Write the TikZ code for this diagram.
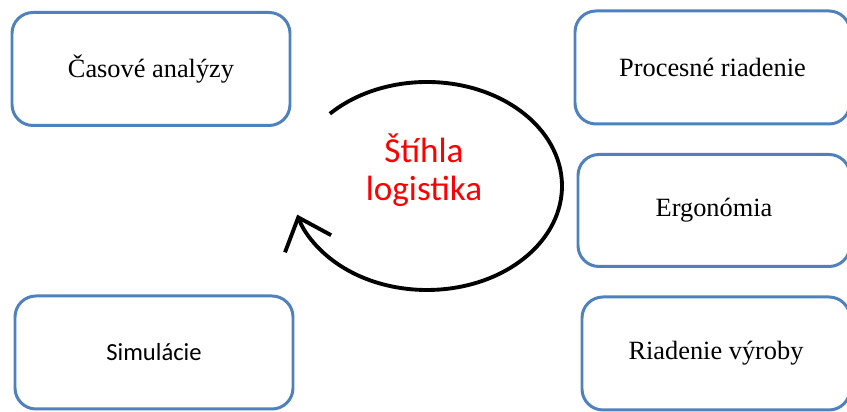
\documentclass[tikz,border=0pt]{standalone}
\usepackage{fontspec}
\setmainfont{Liberation Serif}
\newfontfamily\calibri{Carlito}
\usetikzlibrary{arrows.meta,positioning,calc}
\definecolor{boxblue}{RGB}{79,129,189}

\begin{document}
\begin{tikzpicture}[node distance=2.86cm,
	tema/.style={draw=boxblue,line width=1.7pt,rounded corners=0.42cm,minimum width=5.56cm,minimum height=2.26cm,font=\fontsize{15}{18}\selectfont},
	cyklus/.style={line width=2.2pt,-{Straight Barb[length=16pt,width=28pt,line width=2.2pt]}}]

\useasboundingbox (0,0) rectangle (16.94,8.24);

\node[tema]   (casove)      at (3.02,6.86)  	{Časové analýzy};
 \node[tema,font=\calibri\fontsize{14}{17}\selectfont]   (simul)  at (3.08,1.19)  	{Simulácie};
	\node[tema,minimum width=5.5cm]   (proces)   at (14.25,6.89)   	{Procesné riadenie};
	\node[tema,minimum width=5.44cm,minimum height=2.24cm] 	  (ergo) [below of=proces,xshift=0.03cm]  	{Ergonómia};
	\node[tema,minimum width=5.36cm]   (vyroba) [below of=ergo,xshift=0.04cm]      	{Riadenie výroby};

	\coordinate (stred) at (8.54,4.52);
	\node[text=red,align=center,font=\calibri\fontsize{20}{22}\selectfont] (stihla) at (8.48,4.84) {Štíhla\\logistika};

	\draw[cyklus] ($(stred)+(136:2.7cm and 2.08cm)$) arc[start angle=136,end angle=-164,x radius=2.7cm,y radius=2.08cm];

\end{tikzpicture}
\end{document}
